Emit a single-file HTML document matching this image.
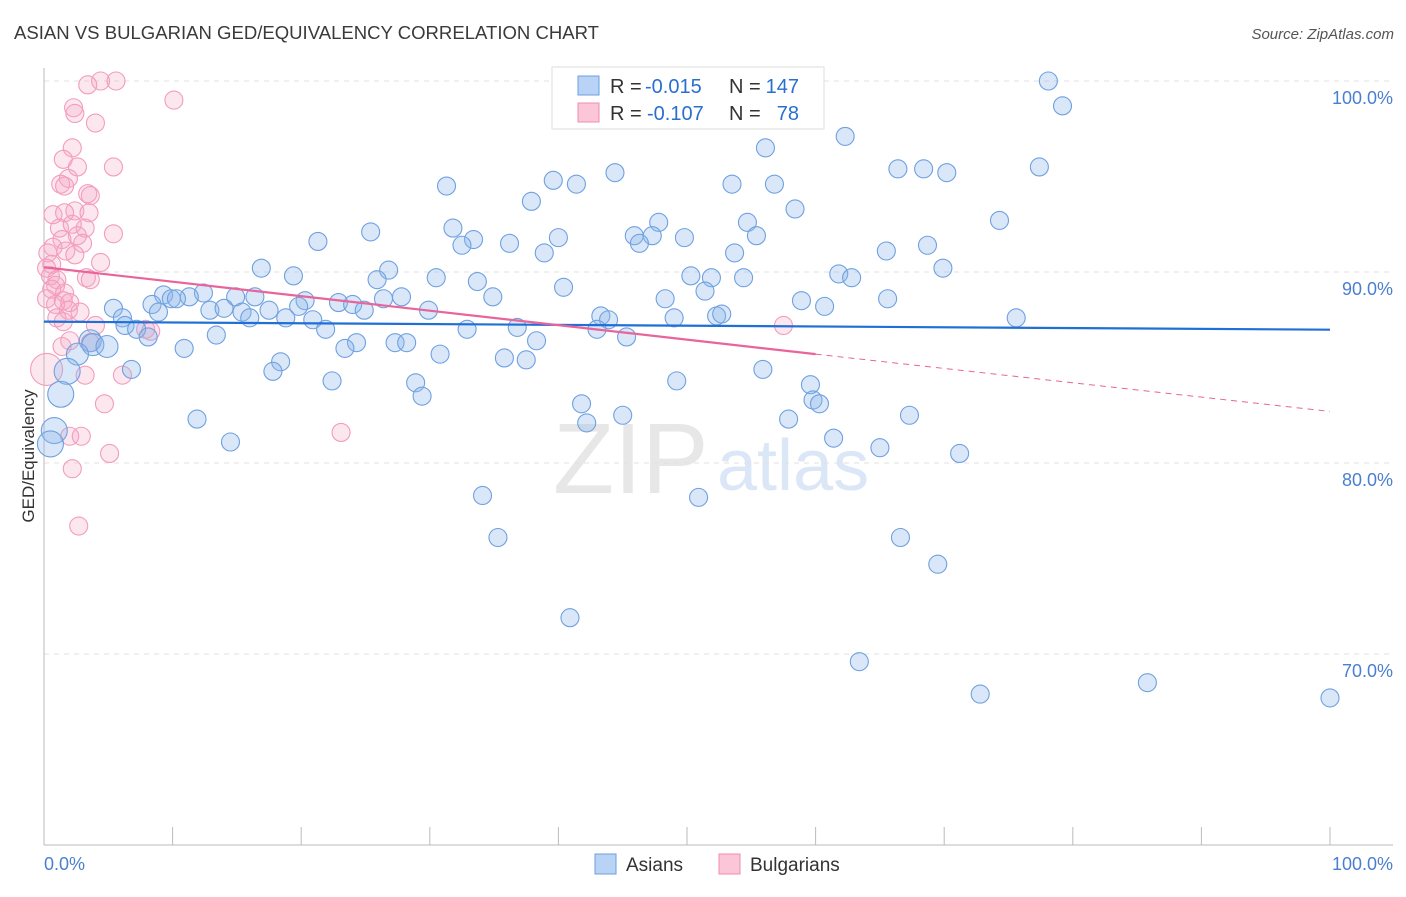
<!DOCTYPE html>
<html><head><meta charset="utf-8">
<style>
body{margin:0;background:#fff;font-family:"Liberation Sans",sans-serif;}
svg text{font-family:"Liberation Sans",sans-serif;}
</style></head>
<body>
<svg id="chart" width="1406" height="892" viewBox="0 0 1406 892" xmlns="http://www.w3.org/2000/svg">
<text x="14" y="39" font-size="18.5" fill="#3a3a3a" textLength="585" lengthAdjust="spacingAndGlyphs">ASIAN VS BULGARIAN GED/EQUIVALENCY CORRELATION CHART</text>
<text x="1394" y="39" font-size="15" fill="#555" text-anchor="end" font-style="italic">Source: ZipAtlas.com</text>
<text x="553" y="493" font-size="100" fill="#e2e2e2" font-family="Liberation Serif" opacity="0.8">ZIP</text>
<text x="717" y="490" font-size="72" fill="#d3e2f5" opacity="0.8">atlas</text>
<g id="grid"></g>
<g id="axes"></g>
<g id="pink-points"></g>
<g id="blue-points"></g>
<g id="trends"></g>
<text transform="translate(34,456) rotate(-90)" font-size="17" fill="#333" text-anchor="middle">GED/Equivalency</text>
<g>
<rect x="552" y="67" width="272" height="62" fill="#fff" stroke="#ddd"/>
<rect x="578" y="76" width="21" height="19" fill="#b8d3f5" stroke="#6a9fe0"/>
<rect x="578" y="103" width="21" height="19" fill="#fac6d8" stroke="#f08cb0"/>
<text x="610" y="93" font-size="20" fill="#333">R =</text>
<text x="645" y="93" font-size="20" fill="#2a6fd0">-0.015</text>
<text x="729" y="93" font-size="20" fill="#333">N =</text>
<text x="799" y="93" font-size="20" fill="#2a6fd0" text-anchor="end">147</text>
<text x="610" y="120" font-size="20" fill="#333">R =</text>
<text x="647" y="120" font-size="20" fill="#2a6fd0">-0.107</text>
<text x="729" y="120" font-size="20" fill="#333">N =</text>
<text x="799" y="120" font-size="20" fill="#2a6fd0" text-anchor="end">78</text>
</g>
<g>
<rect x="595" y="854" width="21" height="20" fill="#b8d3f5" stroke="#6a9fe0"/>
<text x="626" y="871" font-size="19" fill="#333">Asians</text>
<rect x="719" y="854" width="21" height="20" fill="#fac6d8" stroke="#f08cb0"/>
<text x="750" y="871" font-size="19" fill="#333">Bulgarians</text>
</g>
</svg>
<script>
const blueX=[78.1,79.2,62.3,56.1,68.4,66.4,70.2,77.4,44.4,39.6,41.4,53.5,56.8,31.3,37.9,58.4,74.3,54.7,47.8,31.8,25.4,45.9,47.3,55.4,40.0,33.4,49.8,21.3,36.2,32.5,46.3,68.7,65.5,38.9,53.7,16.9,69.9,26.8,61.8,50.3,51.9,19.4,30.5,25.9,54.4,62.8,33.7,40.4,12.4,9.3,11.3,9.9,10.3,14.9,16.4,27.8,34.9,48.3,51.4,26.4,20.3,58.9,65.6,8.4,22.9,24.0,19.8,60.7,8.9,12.9,14.0,15.4,16.0,24.9,29.9,17.5,5.4,18.8,20.9,43.3,43.9,49.0,52.3,52.7,75.6,6.1,6.3,7.2,21.9,32.9,36.8,43.0,8.1,13.4,45.3,38.3,24.3,27.3,28.2,23.4,3.6,3.8,4.9,2.6,10.9,30.8,35.8,37.5,18.4,17.8,6.8,1.8,55.9,49.2,22.4,28.9,59.6,1.3,29.4,59.8,60.3,41.8,45.0,67.3,11.9,42.2,57.9,0.8,61.4,14.5,65.0,0.5,71.2,34.1,50.9,35.3,66.6,69.5,40.9,63.4,72.8,85.8,100];
const blueY=[100.0,98.7,97.1,96.5,95.4,95.4,95.2,95.5,95.2,94.8,94.6,94.6,94.6,94.5,93.7,93.3,92.7,92.6,92.6,92.3,92.1,91.9,91.9,91.9,91.8,91.7,91.8,91.6,91.5,91.4,91.5,91.4,91.1,91.0,91.0,90.2,90.2,90.1,89.9,89.8,89.7,89.8,89.7,89.6,89.7,89.7,89.5,89.2,88.9,88.8,88.7,88.6,88.6,88.7,88.7,88.7,88.7,88.6,89.0,88.6,88.5,88.5,88.6,88.3,88.4,88.3,88.2,88.2,87.9,88.0,88.1,87.9,87.6,88.0,88.0,88.0,88.1,87.6,87.5,87.7,87.5,87.6,87.7,87.8,87.6,87.6,87.2,87.0,87.0,87.0,87.1,87.0,86.6,86.7,86.6,86.4,86.3,86.3,86.3,86.0,86.4,86.2,86.1,85.7,86.0,85.7,85.5,85.4,85.3,84.8,84.9,84.8,84.9,84.3,84.3,84.2,84.1,83.6,83.5,83.3,83.1,83.1,82.5,82.5,82.3,82.1,82.3,81.7,81.3,81.1,80.8,81.0,80.5,78.3,78.2,76.1,76.1,74.7,71.9,69.6,67.9,68.5,67.7];
const pinkX=[4.4,5.6,3.4,10.1,2.3,2.4,4.0,2.2,1.5,2.6,5.4,1.9,1.3,1.6,3.4,3.6,2.4,3.5,0.7,1.6,1.2,3.2,2.2,5.4,2.6,1.4,3.0,0.7,0.3,1.7,2.4,4.4,0.6,0.2,0.5,1.0,3.3,3.6,0.9,0.6,1.6,0.2,1.5,2.0,0.9,1.9,2.8,1.0,1.5,4.0,7.9,8.3,57.5,2.0,1.4,3.6,0.2,3.2,6.1,4.7,23.1,2.0,2.9,5.1,2.2,2.7];
const pinkY=[100,100,99.8,99.0,98.6,98.3,97.8,96.5,95.9,95.5,95.5,94.9,94.6,94.5,94.1,94.0,93.2,93.1,93.0,93.1,92.3,92.3,92.5,92.0,91.9,91.7,91.5,91.3,91.0,91.1,90.9,90.5,90.4,90.2,89.8,89.6,89.7,89.6,89.3,89.1,88.9,88.6,88.5,88.4,88.3,88.0,87.9,87.6,87.4,87.2,87.0,86.9,87.2,86.4,86.1,86.3,84.9,84.6,84.6,83.1,81.6,81.4,81.4,80.5,79.7,76.7];
const yTicks=[100,90,80,70];
const yTickLabels=["100.0%","90.0%","80.0%","70.0%"];
const blueTrend=[[0,87.4],[100,86.98]];
const pinkTrend=[[0,90.25],[60,85.7],[100,82.7]];

const NS="http://www.w3.org/2000/svg";
const X0=44,X1=1330,YTOP=81,PPU=19.1;
const sx=v=>X0+(X1-X0)*v/100;
const sy=v=>YTOP+(100-v)*PPU;
function mk(tag,attrs,parent){const e=document.createElementNS(NS,tag);for(const k in attrs)e.setAttribute(k,attrs[k]);parent.appendChild(e);return e;}
const grid=document.getElementById('grid'),axes=document.getElementById('axes');
yTicks.forEach((t,i)=>{
  const l=mk('line',{x1:44,x2:1393,y1:sy(t),y2:sy(t),stroke:'#e2e2e2','stroke-dasharray':'5,5'},grid);
  
  
  const tx=mk('text',{x:1393,y:sy(t)+23,'font-size':18,fill:'#4a7fd0','text-anchor':'end'},axes);
  tx.textContent=yTickLabels[i];
  
  
});
const ax=mk('line',{x1:44,x2:1393,y1:845,y2:845,stroke:'#bbb'},axes);


const ay=mk('line',{x1:44,x2:44,y1:68,y2:845,stroke:'#bbb'},axes);


for(let i=0;i<=10;i++){
  const tk=mk('line',{x1:sx(i*10),x2:sx(i*10),y1:827,y2:845,stroke:'#bbb'},axes);
  
  
}
const xl0=mk('text',{x:44,y:870,'font-size':18,fill:'#4a7fd0'},axes);xl0.textContent='0.0%';


const xl1=mk('text',{x:1393,y:870,'font-size':18,fill:'#4a7fd0','text-anchor':'end'},axes);xl1.textContent='100.0%';



const pg=document.getElementById('pink-points');
pinkX.forEach((x,i)=>{
  const r=(x<0.5&&pinkY[i]<86)?16:9;
  const c=mk('circle',{cx:sx(x),cy:sy(pinkY[i]),r:r,fill:'rgba(246,170,198,0.28)',stroke:'#f39cbc','stroke-width':1.1},pg);
  
  
});
const bg=document.getElementById('blue-points');
blueX.forEach((x,i)=>{
  const r=x<2?13:(x<5&&blueY[i]<87?11:9);
  const c=mk('circle',{cx:sx(x),cy:sy(blueY[i]),r:r,fill:'rgba(140,182,235,0.33)',stroke:'#6fa1e0','stroke-width':1.1},bg);
  
  
});
const tg=document.getElementById('trends');
const bt=mk('line',{x1:sx(blueTrend[0][0]),y1:sy(blueTrend[0][1]),x2:sx(blueTrend[1][0]),y2:sy(blueTrend[1][1]),stroke:'#1f6fd6','stroke-width':2.2},tg);


const pt=mk('line',{x1:sx(pinkTrend[0][0]),y1:sy(pinkTrend[0][1]),x2:sx(pinkTrend[1][0]),y2:sy(pinkTrend[1][1]),stroke:'#e8649a','stroke-width':2.2},tg);


const pd=mk('line',{x1:sx(pinkTrend[1][0]),y1:sy(pinkTrend[1][1]),x2:sx(pinkTrend[2][0]),y2:sy(pinkTrend[2][1]),stroke:'#e8649a','stroke-width':1,'stroke-dasharray':'6,5'},tg);


</script>
</body></html>
